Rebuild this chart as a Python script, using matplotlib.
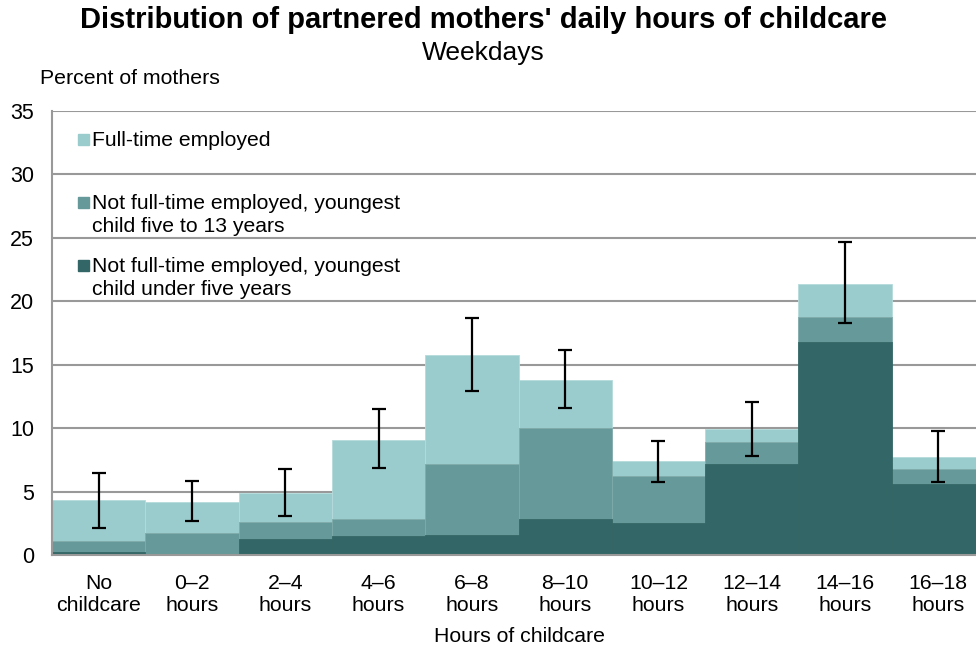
import matplotlib
matplotlib.use("Agg")
import matplotlib.pyplot as plt
from matplotlib.patches import Rectangle
import numpy as np

plt.rcParams['font.family'] = ['Liberation Sans', 'DejaVu Sans']

categories = ["No\nchildcare", "0–2\nhours", "2–4\nhours", "4–6\nhours", "6–8\nhours",
              "8–10\nhours", "10–12\nhours", "12–14\nhours", "14–16\nhours", "16–18\nhours"]
# cumulative stack tops
under_five = [0.2, 0.0, 1.3, 1.5, 1.6, 2.8, 2.5, 7.2, 16.8, 5.6]
five_to_13_top = [1.1, 1.7, 2.6, 2.8, 7.2, 10.0, 6.2, 8.9, 18.8, 6.8]
total = [4.3, 4.2, 4.9, 9.1, 15.8, 13.8, 7.4, 9.9, 21.4, 7.7]
err_center = [4.3, 4.25, 4.9, 9.15, 15.8, 13.85, 7.37, 9.95, 21.45, 7.75]
err_half = [2.15, 1.6, 1.85, 2.33, 2.9, 2.3, 1.62, 2.12, 3.2, 2.0]

labels = ["Full-time employed",
          "Not full-time employed, youngest\nchild five to 13 years",
          "Not full-time employed, youngest\nchild under five years"]
c_light = "#9ACCCD"
c_mid = "#669999"
c_dark = "#336666"

fig = plt.figure(figsize=(9.76, 6.5), dpi=100)
ax = fig.add_axes([52/976, 1-555/650, 1-52/976, (555-111)/650])

x = np.arange(len(categories))
under_five = np.array(under_five)
mid_top = np.array(five_to_13_top)
total = np.array(total)

ax.set_axisbelow(True)
ax.yaxis.grid(True, color="#999999", lw=1.5)
ax.bar(x, total - mid_top, bottom=mid_top, width=1.0, color=c_light, edgecolor="#B5DADB", lw=0.6, zorder=2)
ax.bar(x, mid_top - under_five, bottom=under_five, width=1.0, color=c_mid, edgecolor="#7FAAAA", lw=0.6, zorder=2)
ax.bar(x, under_five, width=1.0, color=c_dark, edgecolor=c_dark, lw=0.6, zorder=2)
ax.errorbar(x, err_center, yerr=err_half, fmt='none', ecolor='black', elinewidth=1.6,
            capsize=5, capthick=1.6, zorder=3)

ax.set_xlim(-0.5, 9.5 - 9/93.3)
ax.set_ylim(0, 35)
ax.set_yticks(range(0, 36, 5))
ax.set_xticks(x)
ax.set_xticklabels(categories, fontsize=15.3, linespacing=1.15)
ax.tick_params(axis='y', labelsize=15.5, length=0, pad=13)
ax.tick_params(axis='x', length=0, pad=14)
for s in ["top", "right"]:
    ax.spines[s].set_visible(False)
ax.spines["left"].set_color("#999999")
ax.spines["left"].set_linewidth(1.5)
ax.spines["bottom"].set_color("#999999")
ax.spines["bottom"].set_linewidth(1.5)

fig.text(483/976, 1-20/650, "Distribution of partnered mothers' daily hours of childcare",
         ha="center", va="center", fontsize=21, fontweight="bold")
fig.text(483/976, 1-53/650, "Weekdays", ha="center", va="center", fontsize=19)
fig.text(40/976, 1-79/650, "Percent of mothers", ha="left", va="center", fontsize=15.3)
fig.text(519/976, 1-637/650, "Hours of childcare", ha="center", va="center", fontsize=15.3)

# manual legend
leg_y = [139.5, 202.5, 265.5]
colors = [c_light, c_mid, c_dark]
for yy, lab, col in zip(leg_y, labels, colors):
    fig.patches.append(Rectangle((78/976, 1-(yy+5.5)/650), 11/976, 11/650,
                                 transform=fig.transFigure, color=col))
    fig.text(92/976, 1-(yy-8.5)/650, lab, ha="left", va="top", fontsize=15.2, linespacing=1.28)

fig.savefig("out.png", dpi=100)
